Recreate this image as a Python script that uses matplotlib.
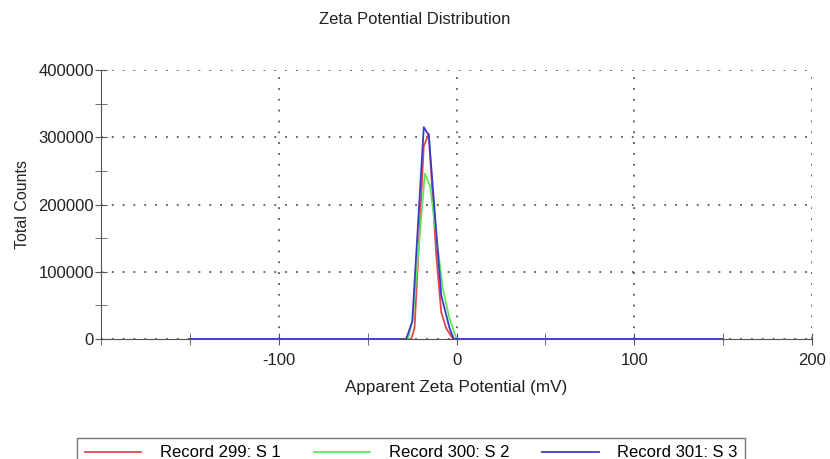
import matplotlib
matplotlib.use("Agg")
import matplotlib.pyplot as plt
from matplotlib.ticker import MultipleLocator

plt.rcParams['font.family'] = ['Liberation Sans', 'DejaVu Sans']
plt.rcParams['axes.unicode_minus'] = False

# zeta potential (mV) and total counts
x_s1 = [-150, -25.5, -23.6, -18.4, -15.6, -11.4, -8.6, -5.8, -2.0, 150]
y_s1 = [0, 0, 16000, 287000, 305000, 125000, 40000, 16000, 0, 0]

x_s2 = [-150, -27.4, -24.6, -17.8, -14.8, -7.7, -3.9, 0.1, 150]
y_s2 = [0, 0, 30000, 246000, 227000, 75000, 30000, 0, 0]

x_s3 = [-150, -28.3, -24.9, -18.4, -15.6, -8.6, -3.9, -1.5, 150]
y_s3 = [0, 0, 26000, 315000, 303000, 65000, 16000, 0, 0]

labels = ['Record 299: S 1', 'Record 300: S 2', 'Record 301: S 3']
colors = ['#e0474c', '#5ee65e', '#3a3ac8']

fig = plt.figure(figsize=(8.3, 4.59), dpi=100)
ax = fig.add_axes([0.1217, 0.2614, 0.8566, 0.5861])

ax.plot(x_s1, y_s1, color=colors[0], lw=1.3, label=labels[0])
ax.plot(x_s2, y_s2, color=colors[1], lw=1.3, label=labels[1])
ax.plot(x_s3, y_s3, color=colors[2], lw=1.3, label=labels[2])

ax.set_xlim(-200, 200)
ax.set_ylim(0, 400000)
ax.yaxis.set_major_locator(MultipleLocator(100000))
ax.yaxis.set_minor_locator(MultipleLocator(50000))
ax.set_xticks([-100, 0, 100, 200])
ax.set_xticks([-200, -150, -50, 50, 150], minor=True)

for s in ['top', 'right']:
    ax.spines[s].set_visible(False)
for s in ['left', 'bottom']:
    ax.spines[s].set_color('#555555')
ax.tick_params(which='both', direction='inout', length=8, color='#555555',
               labelsize=12, labelcolor='#222222')
ax.tick_params(axis='x', pad=6)
ax.tick_params(axis='y', pad=1)

ax.grid(True, which='major', color='#555555', linestyle=(0, (1, 5)), lw=1.3)

ax.set_xlabel('Apparent Zeta Potential (mV)', fontsize=12.3, color='#222222', labelpad=9)
ax.set_ylabel('Total Counts', fontsize=11.5, color='#222222', labelpad=6)
fig.text(0.5, 0.958, 'Zeta Potential Distribution', ha='center', va='center',
         fontsize=12, color='#222222')

leg = fig.legend(loc='upper left', bbox_to_anchor=(0.0928, 0.046), ncol=3,
                 fontsize=12, frameon=True, fancybox=False, edgecolor='#555555',
                 handlelength=3.4, columnspacing=2.0, handletextpad=1.1,
                 borderpad=0.45, borderaxespad=0)
leg.get_frame().set_linewidth(1.0)

fig.savefig('out.png', dpi=100)
